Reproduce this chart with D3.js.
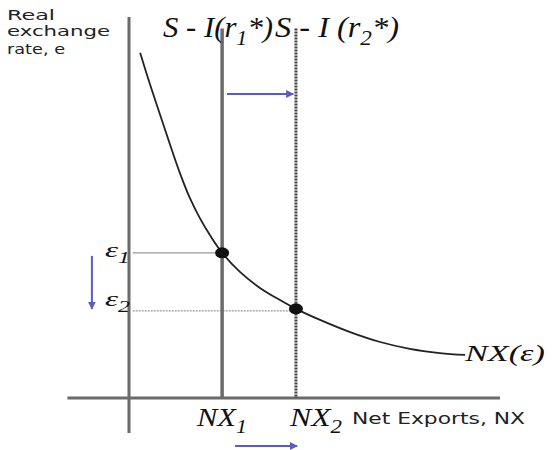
<!DOCTYPE html>
<html>
<head>
<meta charset="utf-8">
<script src="https://cdn.jsdelivr.net/npm/d3@7"></script>
<style>
  body { margin: 0; background: #fff; }
  svg { display: block; }
</style>
</head>
<body>
<svg id="chart" width="552" height="450"></svg>
<script>
// NX(e) curve (x = net exports, y = real exchange rate)
const curveX = [3.0, 5.7, 8.4, 11.1, 13.7, 16.4, 19.1, 22.1, 25.1, 29.9, 35.3, 40.7, 45.0, 51.5, 59.6, 67.7, 75.7, 83.8, 90.6];
const curveY = [90.6, 82.2, 74.3, 66.4, 59.1, 52.5, 47.2, 42.3, 38.1, 33.1, 28.9, 25.7, 23.4, 20.5, 17.3, 14.7, 12.9, 11.8, 11.3];

// equilibria: S - I(r1*) and S - I(r2*)
const nxLevels = [25.1, 45.0];
const eLevels = [38.1, 23.4];
const lineTops = [97.0, 97.0];
const nxLabels = ["1", "2"];

const svg = d3.select("#chart");
const x = d3.scaleLinear().domain([0, 100]).range([129, 500]);
const y = d3.scaleLinear().domain([0, 100]).range([398, 17]);

const axisCol = "#6b6b6b", blue = "#5b5bc4";

svg.append("defs").append("marker")
  .attr("id", "arr").attr("viewBox", "0 0 10 10").attr("refX", 9).attr("refY", 5)
  .attr("markerWidth", 4).attr("markerHeight", 4).attr("orient", "auto")
  .append("path").attr("d", "M0,0L10,5L0,10z").attr("fill", blue);

// axes
svg.append("line").attr("x1", x(0)).attr("x2", x(0)).attr("y1", y(100)).attr("y2", y(-9.2))
  .attr("stroke", axisCol).attr("stroke-width", 3);
svg.append("line").attr("x1", x(-16.6)).attr("x2", x(100)).attr("y1", y(0)).attr("y2", y(0))
  .attr("stroke", axisCol).attr("stroke-width", 3);

// dotted guide lines to the e axis
eLevels.forEach((e, i) => {
  svg.append("line").attr("x1", x(1)).attr("x2", x(nxLevels[i])).attr("y1", y(e) + i * 2).attr("y2", y(e) + i * 2)
    .attr("stroke", "#999").attr("stroke-width", 1.4).attr("stroke-dasharray", i ? "2,1" : null);
});

// S - I verticals
nxLevels.forEach((v, i) => {
  svg.append("line").attr("x1", x(v)).attr("x2", x(v)).attr("y1", y(lineTops[i])).attr("y2", y(0))
    .attr("stroke", i ? "#444" : axisCol).attr("stroke-width", i ? 3 : 3.5)
    .attr("stroke-dasharray", i ? "2,1" : null);
});

// NX curve
const pts = curveX.map((v, i) => [v, curveY[i]]);
svg.append("path").datum(pts)
  .attr("d", d3.line().x(d => x(d[0])).y(d => y(d[1])).curve(d3.curveCatmullRom))
  .attr("fill", "none").attr("stroke", "#222").attr("stroke-width", 1.8);

// equilibrium dots
nxLevels.forEach((v, i) => {
  svg.append("ellipse").attr("cx", x(v)).attr("cy", y(eLevels[i])).attr("rx", 7).attr("ry", 5.5).attr("fill", "#111");
});

// blue shift arrows
const arrow = (x1, y1, x2, y2) => svg.append("line")
  .attr("x1", x1).attr("y1", y1).attr("x2", x2).attr("y2", y2)
  .attr("stroke", blue).attr("stroke-width", 2).attr("marker-end", "url(#arr)");
arrow(x(26.4), y(79.8), x(44.3), y(79.8));
arrow(x(28.6), y(-12.6), x(45.3), y(-12.6));
arrow(x(-10), y(37.3), x(-10), y(23.4));

// text
const serif = "'Liberation Serif', 'DejaVu Serif', serif";
const sans = "'DejaVu Sans', Verdana, sans-serif";

function sansText(px, py, str, len, size) {
  return svg.append("text").attr("x", px).attr("y", py).attr("font-family", sans)
    .attr("font-size", size).attr("fill", "#222")
    .attr("textLength", len).attr("lengthAdjust", "spacingAndGlyphs").text(str);
}
sansText(7, 20, "Real", 48, 14.5);
sansText(7, 36, "exchange", 103, 14.5);
sansText(7, 54, "rate, e", 58, 14.5);
sansText(352, 424, "Net Exports, NX", 173, 16);

function subText(px, py, base, sub, tail, size, len) {
  const t = svg.append("text").attr("x", px).attr("y", py).attr("font-family", serif)
    .attr("font-style", "italic").attr("font-size", size).attr("fill", "#111")
    .attr("textLength", len).attr("lengthAdjust", "spacingAndGlyphs");
  t.append("tspan").text(base);
  t.append("tspan").attr("dy", size * 0.28).attr("font-size", size * 0.72).text(sub);
  if (tail) t.append("tspan").attr("dy", -size * 0.28).text(tail);
  return t;
}

subText(163, 37, "S - I(r", "1", "*)", 29, 110);
subText(275, 37, "S - I (r", "2", "*)", 29, 124);
subText(105, 257, "\u03b5", "1", null, 22, 25);
subText(105, 306, "\u03b5", "2", null, 22, 25);
subText(197, 426, "NX", "1", null, 26, 50);
subText(290, 426, "NX", "2", null, 26, 52);

svg.append("text").attr("x", 465).attr("y", 361).attr("font-family", serif)
  .attr("font-style", "italic").attr("font-size", 24).attr("fill", "#111")
  .attr("textLength", 80).attr("lengthAdjust", "spacingAndGlyphs").text("NX(\u03b5)");
</script>
</body>
</html>
